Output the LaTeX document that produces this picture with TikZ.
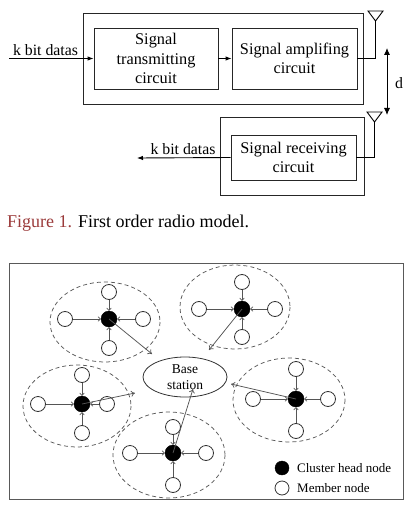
\documentclass[tikz,border=0pt]{standalone}
\usepackage{fontspec}
\setmainfont{Liberation Serif}
\usetikzlibrary{arrows.meta,shapes.geometric,calc}
\definecolor{capred}{HTML}{9B3B3B}
\definecolor{lg}{HTML}{555555}
\begin{document}
\begin{tikzpicture}[x=1pt,y=-1pt,
  blk/.style={draw=black!85,line width=0.9pt,inner sep=0pt,align=center,font=\fontsize{16.3}{19.5}\selectfont},
  outer/.style={draw=black!85,line width=0.9pt,inner sep=0pt},
  sig/.style={line width=0.9pt,-{Latex[length=6pt,width=4.5pt]}},
  member/.style={circle,draw=black!80,line width=0.8pt,minimum size=15pt,inner sep=0pt},
  head/.style={circle,fill=black,draw=black,minimum size=16pt,inner sep=0pt},
  marrow/.style={draw=lg,line width=0.75pt,-{To[length=3pt,width=5pt]}},
  barrow/.style={draw=lg,line width=0.75pt,-{To[length=4pt,width=6pt]}},
  clus/.style={draw=black!65,dashed,dash pattern=on 4pt off 3pt,line width=0.75pt},
  lbl/.style={font=\fontsize{15.8}{18}\selectfont,inner sep=0pt}
]
\useasboundingbox (0,0) rectangle (413,505);

% ---------- Figure 1 ----------
\node[outer,minimum width=280pt,minimum height=91pt] (txo) at (223,58.5) {};
\node[blk,minimum width=124pt,minimum height=61pt] (tx) at (156,58.5) {Signal\\transmitting\\circuit};
\node[blk,minimum width=125pt,minimum height=61pt] (amp) at (294.5,58.5) {Signal amplifing\\circuit};
\node[outer,minimum width=144pt,minimum height=78pt] (rxo) at (292,156) {};
\node[blk,minimum width=125pt,minimum height=45pt] (rx) at (293.5,157.5) {Signal receiving\\circuit};

\coordinate (in) at (9,58.5);
\draw[sig] (in) -- (tx.west);
\node[lbl,anchor=south] at (45.5,56) {k bit datas};
\draw[sig] (tx.east) -- (amp.west);

% antennas
\coordinate (a1) at (375.5,21);
\coordinate (a2) at (374.5,122);
\draw[line width=0.9pt] (amp.east) -| (a1);
\draw[line width=0.9pt] (368,11) -- (383,11) -- (a1) -- cycle;
\draw[line width=0.9pt] (rx.east) -| (a2);
\draw[line width=0.9pt] (367,112) -- (382,112) -- (a2) -- cycle;

\coordinate (d1) at (387,48);
\coordinate (d2) at (387,115);
\draw[line width=0.9pt,{Latex[length=7pt,width=6pt]}-{Latex[length=7pt,width=6pt]}] (d1) -- (d2);
\node[lbl] at (399,83) {d};

\coordinate (out) at (137,158);
\draw[sig] (rx.west) -- (out);
\node[lbl,anchor=south] at (183,155) {k bit datas};

\node[anchor=base west,inner sep=0pt,font=\fontsize{18}{20}\selectfont] (cap) at (7,227) {\textcolor{capred}{Figure 1.} First order radio model.};

% ---------- Figure 2 ----------
\draw[draw=black!65,line width=0.9pt] (9,263) rectangle (403,499);

\node[draw=black!80,line width=0.8pt,ellipse,minimum width=84pt,minimum height=40pt,inner sep=0pt,align=center,font=\fontsize{13.5}{16}\selectfont] (bs) at (185,377) {Base\\station};

% cluster 1
\draw[clus] (105,322) ellipse [x radius=55, y radius=40];
\node[head] (h1) at (109,319) {};
\node[member] (h1t) at (109,292) {};
\node[member] (h1l) at (65,319) {};
\node[member] (h1r) at (143,319) {};
\node[member] (h1b) at (109,348) {};
\foreach \m in {t,l,r,b} \draw[marrow] (h1\m) -- (h1);
\coordinate (t1) at (152,354);
\draw[barrow] (h1.center) -- (t1);

% cluster 2
\draw[clus] (235,307) ellipse [x radius=55, y radius=42];
\node[head] (h2) at (242,309) {};
\node[member] (h2t) at (242,282) {};
\node[member] (h2l) at (199,309) {};
\node[member] (h2r) at (275,309) {};
\node[member] (h2b) at (242,337) {};
\foreach \m in {t,l,r,b} \draw[marrow] (h2\m) -- (h2);
\coordinate (t2) at (209,350);
\draw[barrow] (h2.center) -- (t2);

% cluster 3
\draw[clus] (77,406) ellipse [x radius=54, y radius=41];
\node[head] (h3) at (82,404) {};
\node[member] (h3t) at (82,375) {};
\node[member] (h3l) at (38,404) {};
\node[member] (h3r) at (107,404) {};
\node[member] (h3b) at (82,433) {};
\foreach \m in {t,l,r,b} \draw[marrow] (h3\m) -- (h3);
\coordinate (t3) at (135,393);
\draw[barrow] (h3.center) -- (t3);

% cluster 4
\draw[clus] (289,400) ellipse [x radius=56, y radius=42];
\node[head] (h4) at (296,399) {};
\node[member] (h4t) at (296,369) {};
\node[member] (h4l) at (253,399) {};
\node[member] (h4r) at (328,399) {};
\node[member] (h4b) at (296,431) {};
\foreach \m in {t,l,r,b} \draw[marrow] (h4\m) -- (h4);
\coordinate (t4) at (231,384);
\draw[barrow] (h4.center) -- (t4);

% cluster 5
\begin{scope}
\clip (9,263) rectangle (403,499);
\draw[clus] (169,455) ellipse [x radius=56, y radius=43];
\end{scope}
\node[head] (h5) at (173,453) {};
\node[member] (h5t) at (173,427) {};
\node[member] (h5l) at (130,453) {};
\node[member] (h5r) at (206,453) {};
\node[member] (h5b) at (173,485) {};
\foreach \m in {t,l,r,b} \draw[marrow] (h5\m) -- (h5);
\coordinate (t5) at (193,389);
\draw[barrow] (h5.center) -- (t5);

% legend
\node[head,minimum size=14pt] (lh) at (282,468) {};
\node[anchor=west,inner sep=0pt,font=\fontsize{13}{15}\selectfont] (lht) at (297,468) {Cluster head node};
\node[member,minimum size=14pt] (lm) at (282,488) {};
\node[anchor=west,inner sep=0pt,font=\fontsize{13}{15}\selectfont] (lmt) at (297,488) {Member node};
\end{tikzpicture}
\end{document}
